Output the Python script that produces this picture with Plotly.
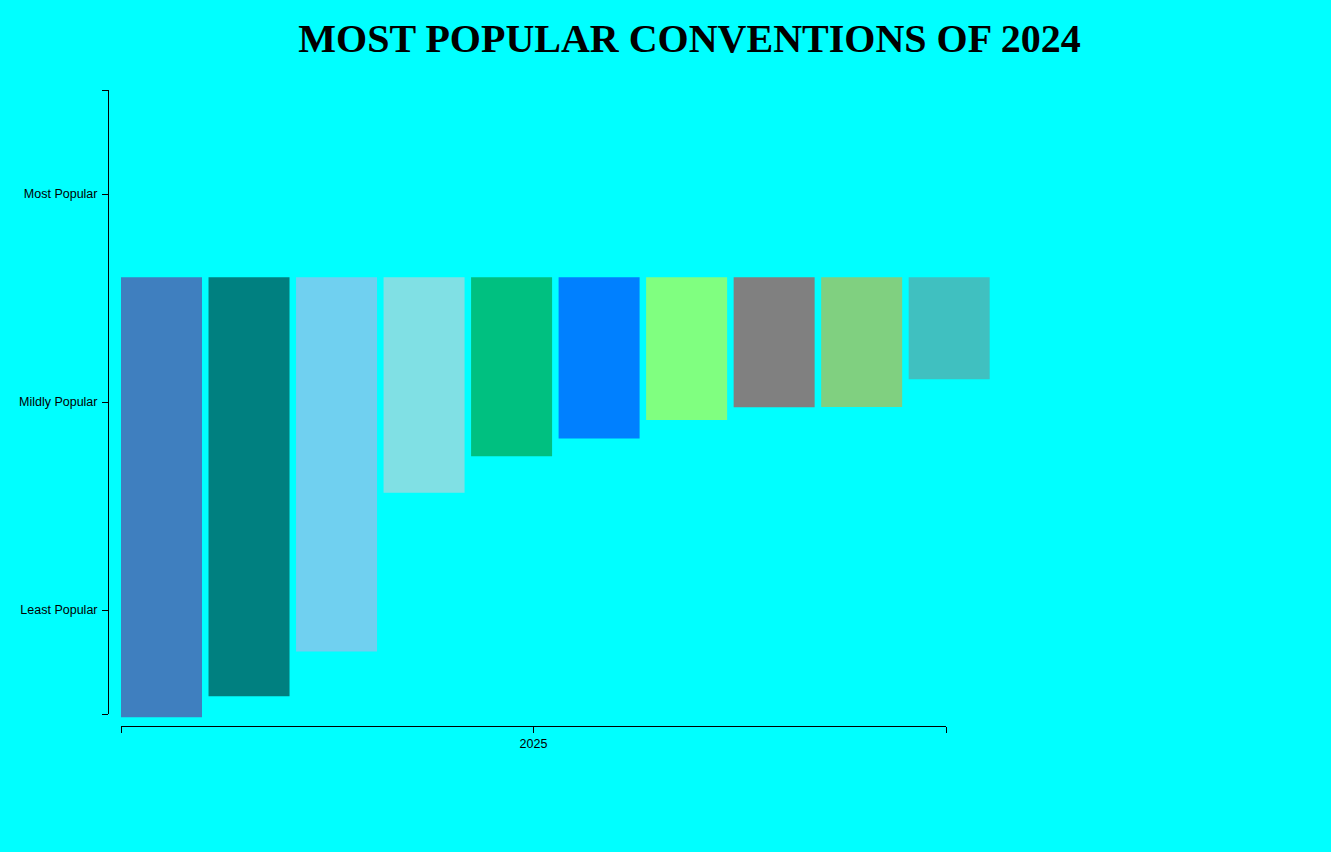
import plotly.graph_objects as go

# ---- data ----
title_text = "MOST POPULAR CONVENTIONS OF 2024"
y_tick_labels = ["Least Popular", "Mildly Popular", "Most Popular"]
x_tick_label = "2025"
bar_top_level = 2.6
bar_bottom_levels = [0.484, 0.585, 0.800, 1.564, 1.739, 1.824, 1.913, 1.975, 1.976, 2.109]
bar_colors = ["#3f7fbf", "#008080", "#70d0f0", "#80e0e4", "#00c080",
              "#0080ff", "#80ff80", "#808080", "#80d080", "#40c0c0"]

# ---- layout geometry (pixels in a 1331x852 page) ----
W, H = 1331, 852
BG = "#00ffff"
px_per_unit = 208.0
y_axis_bottom_px, y_axis_top_px = 714, 90
bars_left_px, bar_step_px, bar_width_px = 121.0, 87.52, 81.0
bar_area_right_px = 1000.0
bar_y_bottom_px = 730.0

def fy(py):
    return 1 - py / H

def fx(px):
    return px / W

idx = list(range(len(bar_bottom_levels)))
first_center = bars_left_px + bar_width_px / 2
x_range = [(bars_left_px - first_center) / bar_step_px,
           (bar_area_right_px - first_center) / bar_step_px]
y_low_vis = 0.5
y_high_vis = 3.5
y_low_bars = y_low_vis - (bar_y_bottom_px - y_axis_bottom_px) / px_per_unit

fig = go.Figure()
# carrier for the visible axes (drawn first, underneath)
fig.add_trace(go.Scatter(x=[None], y=[None], xaxis="x2", yaxis="y2",
                         showlegend=False, hoverinfo="skip"))
fig.add_trace(go.Bar(
    x=idx,
    base=bar_bottom_levels,
    y=[bar_top_level - b for b in bar_bottom_levels],
    width=bar_width_px / bar_step_px,
    marker=dict(color=bar_colors, line=dict(width=0)),
    xaxis="x", yaxis="y",
    showlegend=False, hoverinfo="skip",
))

tick_font = dict(family="Liberation Sans, Arial, sans-serif", size=12.5, color="#000000")

fig.update_layout(
    width=W, height=H,
    margin=dict(l=0, r=0, t=0, b=0, autoexpand=False),
    paper_bgcolor=BG, plot_bgcolor="rgba(0,0,0,0)",
    title=dict(text="<b>" + title_text + "</b>",
               font=dict(family="Liberation Serif, Times New Roman, serif", size=40, color="#000000"),
               x=fx(689.5), xanchor="center", xref="container",
               y=fy(38), yanchor="middle", yref="container"),
    xaxis=dict(domain=[fx(bars_left_px), fx(bar_area_right_px)], range=x_range,
               visible=False, fixedrange=True),
    yaxis=dict(domain=[fy(bar_y_bottom_px), fy(y_axis_top_px)],
               range=[y_low_bars, y_high_vis], visible=False, fixedrange=True),
    xaxis2=dict(domain=[fx(121), fx(946)], range=[0, 1], anchor="free", position=fy(726),
                showline=True, linecolor="#000000", linewidth=1,
                ticks="outside", ticklen=6, tickcolor="#000000", tickwidth=1,
                tickmode="array", tickvals=[0, 0.5, 1], ticktext=["", x_tick_label, ""],
                tickfont=tick_font, showgrid=False, zeroline=False, fixedrange=True),
    yaxis2=dict(domain=[fy(y_axis_bottom_px), fy(y_axis_top_px)], range=[y_low_vis, y_high_vis],
                anchor="free", position=fx(108),
                showline=True, linecolor="#000000", linewidth=1,
                ticks="outside", ticklen=6, tickcolor="#000000", tickwidth=1,
                tickmode="array", tickvals=[0.5, 1, 2, 3, 3.5],
                ticktext=[""] + y_tick_labels + [""], ticklabelstandoff=2,
                tickfont=tick_font, showgrid=False, zeroline=False, fixedrange=True),
)

fig.write_html("out.html", config={"displayModeBar": False},
               post_script="document.body.style.margin='0';")
